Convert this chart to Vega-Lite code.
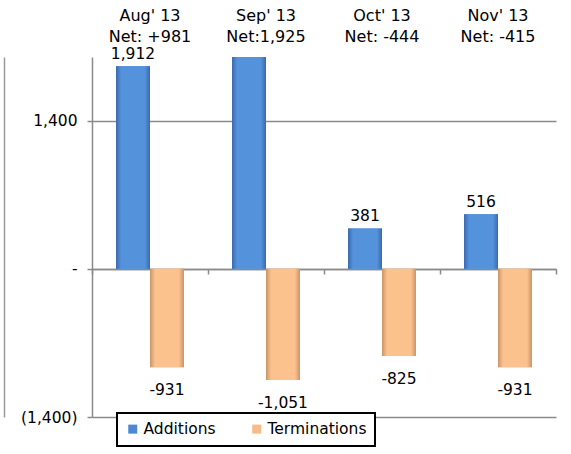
{
  "$schema": "https://vega.github.io/schema/vega-lite/v6.json",
  "width": 464,
  "height": 360,
  "autosize": {"type": "none"},
  "padding": {"left": 92, "top": 57, "right": 15, "bottom": 37},
  "background": "white",
  "config": {
    "view": {"stroke": null},
    "font": "DejaVu Sans",
    "locale": {"number": {"decimal": ".", "thousands": ",", "grouping": [3], "currency": ["$", ""], "minus": "-"}},
    "legend": {"strokeWidth": 2}
  },
  "data": {
    "values": [
      {"m": "Aug' 13|Net: +981", "series": "Additions", "value": 1912},
      {"m": "Aug' 13|Net: +981", "series": "Terminations", "value": -931},
      {"m": "Sep' 13|Net:1,925", "series": "Additions", "value": 2976},
      {"m": "Sep' 13|Net:1,925", "series": "Terminations", "value": -1051},
      {"m": "Oct' 13|Net: -444", "series": "Additions", "value": 381},
      {"m": "Oct' 13|Net: -444", "series": "Terminations", "value": -825},
      {"m": "Nov' 13|Net: -415", "series": "Additions", "value": 516},
      {"m": "Nov' 13|Net: -415", "series": "Terminations", "value": -931}
    ]
  },
  "resolve": {"axis": {"x": "independent", "y": "independent"}},
  "layer": [
    {
      "mark": {"type": "bar", "clip": true},
      "encoding": {
        "x": {"field": "m", "type": "nominal", "sort": null,
          "scale": {"paddingInner": 0, "paddingOuter": 0},
          "axis": {"orient": "bottom", "offset": -148, "labels": false, "title": null, "tickBand": "extent",
            "domainColor": "#8a8a8a", "domainWidth": 1.5, "tickColor": "#8a8a8a", "tickSize": 5, "tickWidth": 1.5, "grid": false}},
        "xOffset": {"field": "series", "type": "nominal", "sort": ["Additions", "Terminations"],
          "scale": {"paddingInner": 0, "paddingOuter": 0.706}},
        "y": {"field": "value", "type": "quantitative",
          "scale": {"domain": [-1400, 2000], "nice": false},
          "axis": {"values": [-1400, 0, 1400], "title": null, "grid": true, "gridColor": "#8a8a8a", "gridWidth": 1.5,
            "domainColor": "#8a8a8a", "domainWidth": 1.5, "tickColor": "#8a8a8a", "tickWidth": 1.5, "tickSize": 5,
            "labelPadding": 10, "labelFontSize": 15.5, "labelColor": "black", "labelFontWeight": "normal",
            "labelExpr": "datum.value == 0 ? '-   ' : datum.value < 0 ? '(' + format(-datum.value, ',') + ')' : format(datum.value, ',') + ' '"}},
        "color": {"field": "series", "type": "nominal", "sort": ["Additions", "Terminations"],
          "scale": {"range": ["#4f88d2", "#f6bb88"]},
          "legend": {"title": null, "orient": "none", "direction": "horizontal", "legendX": 25, "legendY": 356,
            "padding": 8, "strokeColor": "black", "fillColor": "white", "symbolType": "square", "symbolSize": 81,
            "symbolStrokeWidth": 0, "labelOffset": 3, "labelFontSize": 15.5, "labelColor": "black", "columnPadding": 33}}
      }
    },
    {
      "transform": [{"filter": "datum.series == 'Additions'"}],
      "mark": {"type": "bar", "clip": true,
        "color": {"gradient": "linear", "x1": 0, "x2": 1, "y1": 0, "y2": 0,
          "stops": [{"offset": 0, "color": "#3a69ad"}, {"offset": 0.15, "color": "#5592dc"}, {"offset": 0.85, "color": "#5592dc"}, {"offset": 1, "color": "#3a69ad"}]}},
      "encoding": {
        "x": {"field": "m", "type": "nominal", "sort": null,
          "axis": {"orient": "top", "domain": false, "ticks": false, "grid": false, "title": null, "labelAngle": 0,
            "labelPadding": 34, "labelFontSize": 16, "labelLineHeight": 21, "labelColor": "black", "labelFontWeight": "normal",
            "labelExpr": "split(datum.label, '|')"}},
        "xOffset": {"field": "series", "type": "nominal", "sort": ["Additions", "Terminations"]},
        "y": {"field": "value", "type": "quantitative",
          "axis": {"orient": "left", "offset": 88, "labels": false, "ticks": false, "grid": false, "title": null,
            "domainColor": "#9a9a9a", "domainWidth": 1.5}}
      }
    },
    {
      "transform": [{"filter": "datum.series == 'Terminations'"}],
      "mark": {"type": "bar", "clip": true,
        "color": {"gradient": "linear", "x1": 0, "x2": 1, "y1": 0, "y2": 0,
          "stops": [{"offset": 0, "color": "#c99467"}, {"offset": 0.15, "color": "#fbc28d"}, {"offset": 0.85, "color": "#fbc28d"}, {"offset": 1, "color": "#c99467"}]}},
      "encoding": {
        "x": {"field": "m", "type": "nominal", "sort": null, "axis": null},
        "xOffset": {"field": "series", "type": "nominal", "sort": ["Additions", "Terminations"]},
        "y": {"field": "value", "type": "quantitative", "axis": null}
      }
    },
    {
      "transform": [{"filter": "datum.value > 0 && datum.value <= 2000"}],
      "mark": {"type": "text", "baseline": "bottom", "dy": -4, "fontSize": 15.5, "color": "black"},
      "encoding": {
        "x": {"field": "m", "type": "nominal", "sort": null, "axis": null},
        "xOffset": {"field": "series", "type": "nominal", "sort": ["Additions", "Terminations"]},
        "y": {"field": "value", "type": "quantitative", "axis": null},
        "text": {"field": "value", "type": "quantitative", "format": ","}
      }
    },
    {
      "transform": [{"filter": "datum.value < 0"}],
      "mark": {"type": "text", "baseline": "top", "dy": 16, "fontSize": 15.5, "color": "black"},
      "encoding": {
        "x": {"field": "m", "type": "nominal", "sort": null, "axis": null},
        "xOffset": {"field": "series", "type": "nominal", "sort": ["Additions", "Terminations"]},
        "y": {"field": "value", "type": "quantitative", "axis": null},
        "text": {"field": "value", "type": "quantitative", "format": ","}
      }
    }
  ]
}
